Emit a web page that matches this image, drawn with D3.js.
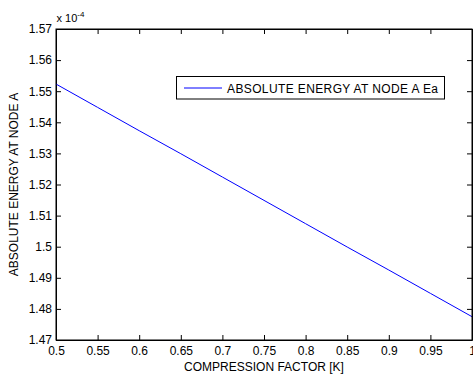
<!DOCTYPE html>
<html>
<head>
<meta charset="utf-8">
<script src="https://cdn.jsdelivr.net/npm/d3@7"></script>
<style>
body { margin: 0; background: #fff; }
svg { display: block; font-family: "Liberation Sans", Arial, sans-serif; }
</style>
</head>
<body>
<div id="chart"></div>
<script>
// compression factor K
var kValues = [0.5, 0.55, 0.6, 0.65, 0.7, 0.75, 0.8, 0.85, 0.9, 0.95, 1.0];
// absolute energy at node A (x 1e-4)
var energyValues = [1.5523, 1.5448, 1.5373, 1.5299, 1.5224, 1.5149, 1.5074, 1.4999, 1.4925, 1.4850, 1.4775];
var xTicks = [0.5, 0.55, 0.6, 0.65, 0.7, 0.75, 0.8, 0.85, 0.9, 0.95, 1];
var yTicks = [1.47, 1.48, 1.49, 1.5, 1.51, 1.52, 1.53, 1.54, 1.55, 1.56, 1.57];
var seriesName = "ABSOLUTE ENERGY AT NODE A Ea";

var width = 473, height = 376;
var margin = {top: 29, right: 1, bottom: 36, left: 56};

var x = d3.scaleLinear()
    .domain([0.5, 1])
    .range([margin.left, width - margin.right]);
var y = d3.scaleLinear()
    .domain([1.47, 1.57])
    .range([height - margin.bottom, margin.top]);

var svg = d3.select("#chart").append("svg")
    .attr("width", width)
    .attr("height", height);

var fmt = d => d3.format("")(+d.toFixed(2));

// axes, ticks pointing in
var gx = svg.append("g")
    .attr("transform", "translate(0," + y.range()[0] + ")")
    .call(d3.axisBottom(x).tickValues(xTicks).tickFormat(fmt).tickSizeInner(-5).tickSizeOuter(0).tickPadding(6));
var gxTop = svg.append("g")
    .attr("transform", "translate(0," + margin.top + ")")
    .call(d3.axisTop(x).tickValues(xTicks).tickFormat("").tickSizeInner(-5).tickSizeOuter(0));
var gy = svg.append("g")
    .attr("transform", "translate(" + margin.left + ",0)")
    .call(d3.axisLeft(y).tickValues(yTicks).tickFormat(fmt).tickSizeInner(-5).tickSizeOuter(0).tickPadding(4));
var gyRight = svg.append("g")
    .attr("transform", "translate(" + x.range()[1] + ",0)")
    .call(d3.axisRight(y).tickValues(yTicks).tickFormat("").tickSizeInner(-5).tickSizeOuter(0));

svg.selectAll(".tick text")
    .attr("font-size", 12)
    .attr("font-family", "Liberation Sans, Arial, sans-serif")
    .attr("fill", "#000");
svg.selectAll(".domain, .tick line").attr("stroke", "#000");

// the line
var line = d3.line()
    .x((d, i) => x(kValues[i]))
    .y(d => y(d));

svg.append("path")
    .datum(energyValues)
    .attr("fill", "none")
    .attr("stroke", "#0000ff")
    .attr("stroke-width", 1)
    .attr("d", line);

// redraw box on top
svg.append("rect")
    .attr("x", margin.left)
    .attr("y", margin.top)
    .attr("width", x.range()[1] - margin.left)
    .attr("height", y.range()[0] - margin.top)
    .attr("fill", "none")
    .attr("stroke", "#000");

// axis labels
svg.append("text")
    .attr("x", 264)
    .attr("y", 371)
    .attr("text-anchor", "middle")
    .attr("font-size", 12)
    .text("COMPRESSION FACTOR [K]");

svg.append("text")
    .attr("transform", "translate(17.5," + (y.range()[0] + margin.top) / 2 + ") rotate(-90)")
    .attr("text-anchor", "middle")
    .attr("font-size", 12)
    .text("ABSOLUTE ENERGY AT NODE A");

// exponent note
var expo = svg.append("text")
    .attr("x", 56.5)
    .attr("y", 22)
    .attr("font-size", 11);
expo.append("tspan").text("x 10");
expo.append("tspan").attr("dy", -5).attr("font-size", 8).text("-4");

// legend
var lg = svg.append("g");
lg.append("rect")
    .attr("x", 176.5).attr("y", 76.5)
    .attr("width", 268).attr("height", 22.5)
    .attr("fill", "#fff").attr("stroke", "#000");
lg.append("line")
    .attr("x1", 184).attr("x2", 222)
    .attr("y1", 88).attr("y2", 88)
    .attr("stroke", "#0000ff");
lg.append("text")
    .attr("x", 227).attr("y", 92.5)
    .attr("font-size", 12)
    .attr("textLength", 211)
    .attr("lengthAdjust", "spacing")
    .text(seriesName);
</script>
</body>
</html>
